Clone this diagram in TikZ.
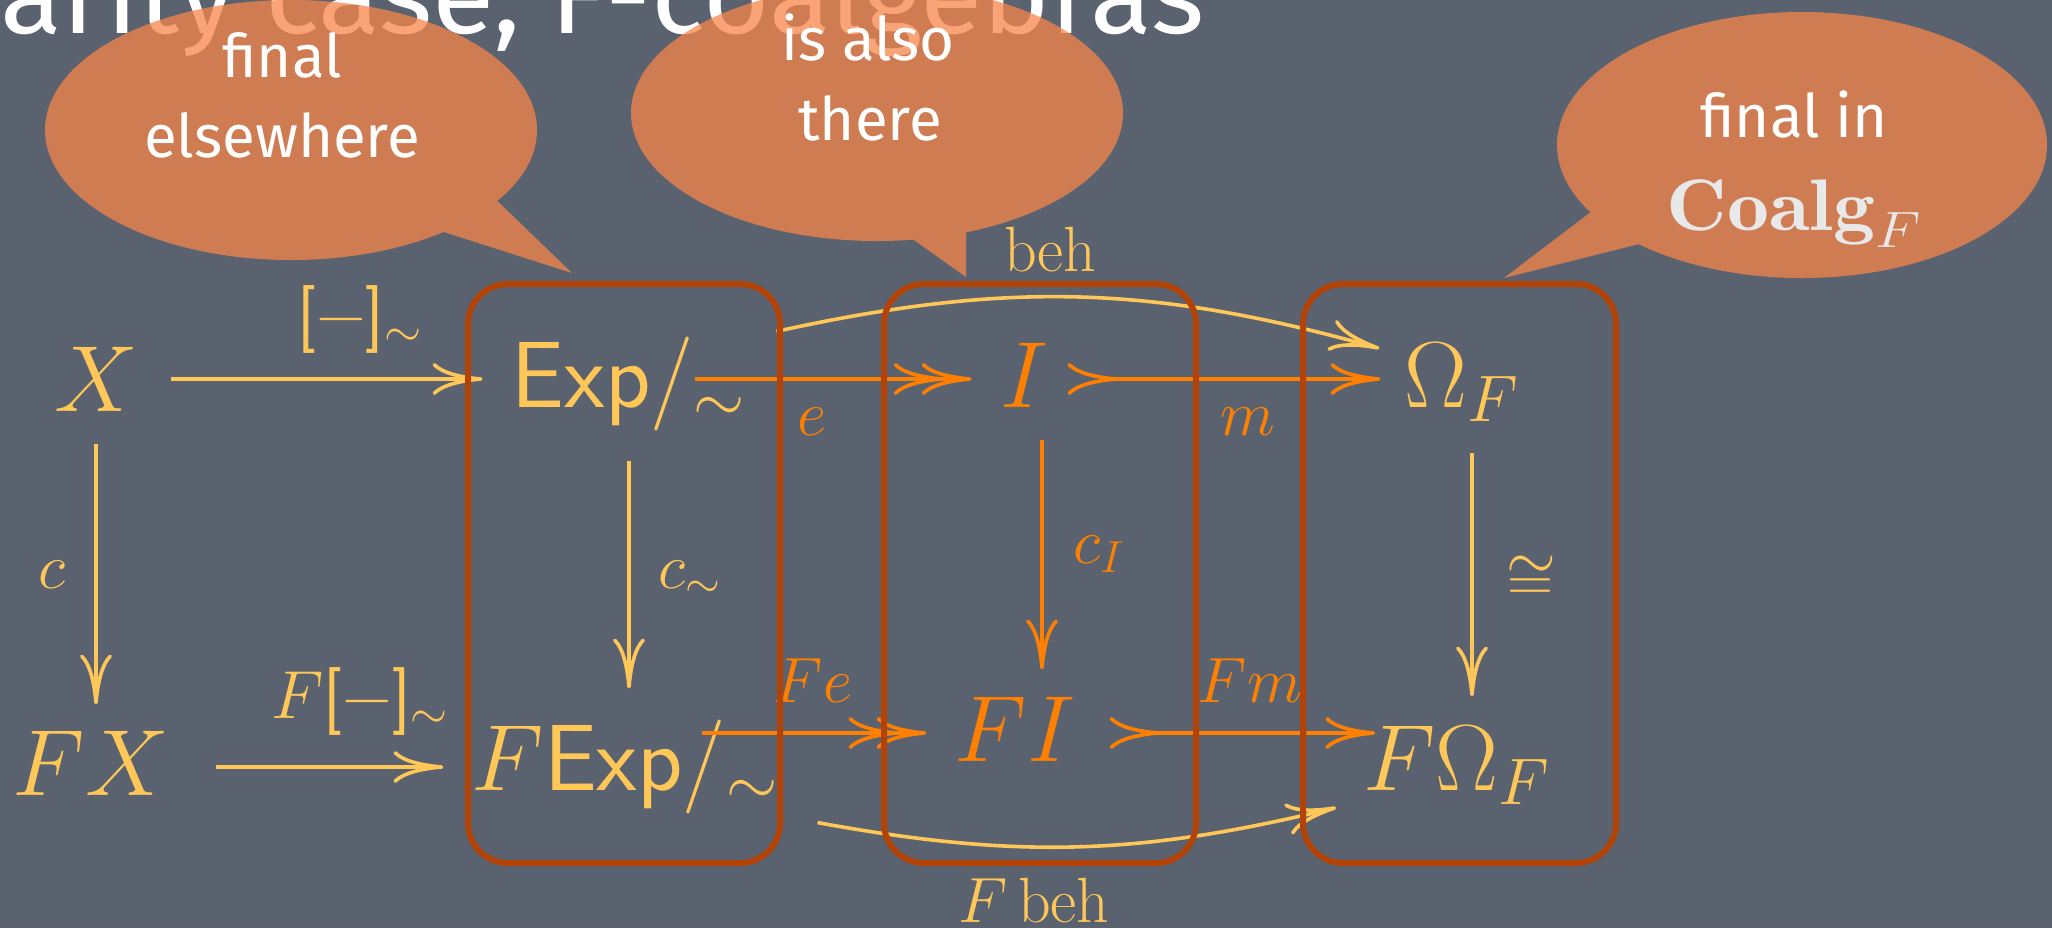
\RequirePackage{fix-cm}
\documentclass[tikz,border=0pt]{standalone}
\usepackage{graphicx}
\usepackage{fontspec}
\newfontfamily\bubblefont{Fira Sans}
\usetikzlibrary{arrows.meta,calc}
\definecolor{bg}{RGB}{90,98,112}
\definecolor{yel}{RGB}{255,198,88}
\definecolor{ora}{RGB}{255,128,0}
\definecolor{boxc}{RGB}{178,66,5}
\definecolor{bub}{RGB}{247,133,73}
\definecolor{lgray}{RGB}{232,232,232}
\newcommand{\dgobj}{\fontsize{47}{52}\selectfont}
\newcommand{\dglab}{\fontsize{32}{36}\selectfont}
\newcommand{\dgqlab}{\fontsize{34}{38}\selectfont}
\newcommand{\dgbub}{\bubblefont\fontsize{30}{34}\selectfont}
\newcommand{\eqcls}{\textsf{[\symbol{"2212}]}}
\begin{document}
\begin{tikzpicture}[x=0.5pt,y=-0.5pt,
  obj/.style={inner sep=0pt, text height=37.6pt, text depth=9.6pt, font=\dgobj},
  lab/.style={inner sep=0pt, anchor=base, font=\dglab},
  bt/.style={inner sep=0pt, anchor=base, font=\dgbub, text=white},
  cmtip/.tip={Computer Modern Rightarrow[length=25pt,width=16pt]},
  yar/.style={draw=yel, line width=1.8pt, -cmtip},
  oar/.style={draw=ora, line width=1.8pt, -cmtip},
  twohead/.style={-{Computer Modern Rightarrow[length=25pt,width=16pt,sep=-11pt]Computer Modern Rightarrow[length=25pt,width=16pt]}},
  mono/.style={{Computer Modern Rightarrow[length=25pt,width=16pt,reversed]}-cmtip},
  regbox/.style={draw=boxc, line width=3pt, rounded corners=20pt},
  bubble/.style={fill=bub}]
\useasboundingbox (0,0) rectangle (2052,928);
\clip (0,0) rectangle (2052,928);
\fill[bg] (0,0) rectangle (2052,928);

% title
\node[anchor=base west, inner sep=0pt, text=white, font=\bubblefont\fontsize{54}{60}\selectfont] (title) at (0,33) {\resizebox{602pt}{\height}{arity case, F-coalgebras}};

% speech bubbles
\begin{scope}[transparency group, opacity=0.75]
  \fill[bubble] (291,130) ellipse [x radius=123pt, y radius=65pt];
  \fill[bubble] (425,226) -- (572,273) -- (488,192) -- cycle;
  \fill[bubble] (877,113) ellipse [x radius=123pt, y radius=64pt];
  \fill[bubble] (900,230) -- (966,277) -- (966,215) -- cycle;
  \fill[bubble] (1802,145) ellipse [x radius=122.5pt, y radius=66.5pt];
  \fill[bubble] (1600,205) -- (1504,278) -- (1655,240) -- cycle;
\end{scope}
\node[bt] (b1a) at (282,77) {final};
\node[bt] (b1b) at (282,157) {elsewhere};
\node[bt] (b2a) at (868,60) {is also};
\node[bt] (b2b) at (870,140) {there};
\node[bt] (b3a) at (1794,137) {final in};
\node[inner sep=0pt, anchor=base, text=lgray, font=\fontsize{36.5}{40}\selectfont] (b3b) at (1794,230) {\scalebox{1.15}[1]{$\mathbf{Coalg}_F$}};

% objects
\node[obj, text=yel] (X) at (96,383) {$X$};
\node[obj, text=yel] (Exp) at (629,379) {$\mathsf{Exp}/_{\sim}$};
\node[obj, text=ora] (I) at (1024,379) {$I$};
\node[obj, text=yel] (Om) at (1462,379) {$\Omega_F$};
\node[obj, text=yel] (FX) at (91,767) {$FX$};
\node[obj, text=yel] (FExp) at (625,762) {$F\mathsf{Exp}/_{\sim}$};
\node[obj, text=ora] (FI) at (1015,733) {$FI$};
\node[obj, text=yel] (FOm) at (1457,762) {$F\Omega_F$};

% horizontal arrows
\draw[yar, shorten <=16.5pt, shorten >=14.5pt] (X.east |- Exp) -- (Exp.west);
\draw[oar, twohead, shorten <=-25.5pt, shorten >=14pt] (Exp.east) -- (I.west);
\draw[oar, mono, shorten <=9.5pt, shorten >=12pt] (I.east) -- (Om.west);
\draw[yar, shorten <=23.5pt, shorten >=14pt] (FX.east) -- (FExp.west |- FX.east);
\draw[oar, twohead, shorten <=-38.5pt, shorten >=14pt] (FExp.east |- FI) -- (FI.west);
\draw[oar, mono, shorten <=17pt, shorten >=-6pt] (FI.east) -- (FOm.west |- FI);

% vertical arrows
\draw[yar, shorten <=6.5pt, shorten >=7.5pt] (X) -- (X |- FX.north);
\draw[yar, shorten <=17pt, shorten >=13pt] (Exp) -- (Exp |- FExp.north);
\draw[oar, shorten <=6.5pt, shorten >=8pt] ($(I.south)+(18,0)$) -- ($(I.south |- FI.north)+(18,0)$);
\draw[yar, shorten <=13pt, shorten >=9pt] ($(Om.south)+(10,0)$) -- ($(Om.south |- FOm.north)+(10,0)$);

% curved arrows
\draw[yar] ($(Exp.north east)+(30,0)$) to[bend left=14] ($(Om.north west)+(-25,17)$);
\draw[yar] ($(FExp.south east)+(39,13)$) to[bend right=12] ($(FOm.south west)+(-27,-2)$);

% labels
\node[lab, font=\dgqlab, text=yel] (lq) at (360,336) {\eqcls$_{\sim}$};
\node[lab, font=\dgqlab, text=yel] (lFq) at (360,718) {$F$\eqcls$_{\sim}$};
\node[lab, text=ora] (le) at (812,435) {$e$};
\node[lab, text=ora] (lm) at (1248,435) {$m$};
\node[lab, text=yel] (lbeh) at (1050,271) {$\mathrm{beh}$};
\node[lab, text=yel] (lc) at (52,588) {$c$};
\node[lab, anchor=base west, text=yel] (lcs) at (658,588) {$c_{\sim}$};
\node[lab, anchor=base west, text=ora] (lcI) at (1073,563) {$c_I$};
\node[inner sep=0pt, font=\dglab, text=yel] (liso) at (1531,579) {$\cong$};
\node[lab, text=ora] (lFe) at (813,702) {$Fe$};
\node[lab, text=ora] (lFm) at (1250,702) {$Fm$};
\node[lab, text=yel] (lFbeh) at (1034,922) {$F\,\mathrm{beh}$};

% region boxes
\draw[regbox] (468,284) rectangle (780,863);
\draw[regbox] (884,284) rectangle (1196,863);
\draw[regbox] (1303,284) rectangle (1616,863);
\end{tikzpicture}
\end{document}
